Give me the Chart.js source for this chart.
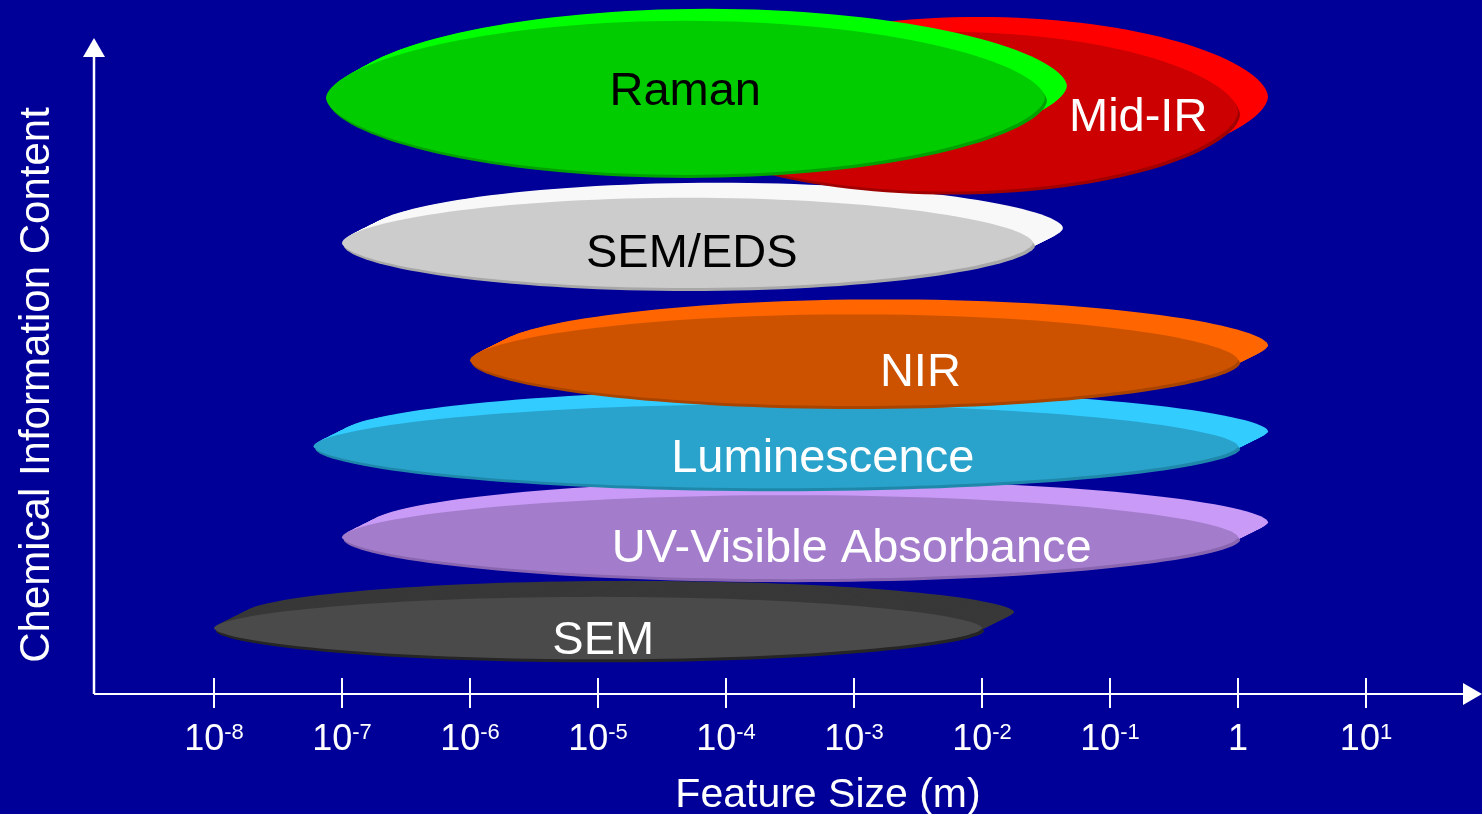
<!DOCTYPE html>
<html>
<head>
<meta charset="utf-8">
<title>Chemical Information Content vs Feature Size</title>
<script src="https://cdn.jsdelivr.net/npm/chart.js@4/dist/chart.umd.min.js"></script>
<style>
  html, body { margin: 0; padding: 0; background: #000099; overflow: hidden; }
  canvas { display: block; }
</style>
</head>
<body>
<canvas id="sizeChart" width="1482" height="814"></canvas>
<script>
// techniques, drawn back to front
const techniques = ["SEM", "UV-Visible Absorbance", "Luminescence", "NIR", "SEM/EDS", "Mid-IR", "Raman"];
// feature size range of each technique (m)
const sizeMin = [1e-8, 1e-7, 6e-8, 1e-6, 1e-7, 3e-5, 7.5e-8];
const sizeMax = [1e-2, 1, 1, 1, 2.5e-2, 1, 3.1e-2];
// chemical information content (0-100) and the half-spread of each disc
const infoLevel = [9.5, 22.6, 35.7, 48.1, 65.0, 83.9, 85.9];
const infoSpread = [4.5, 6.05, 6.05, 6.6, 6.5, 11.5, 11.1];
// where each name sits
const labelAtSize = [1.1e-5, 9.6e-4, 5.7e-4, 3.3e-3, 5.4e-5, 0.166, 4.8e-5];
const labelAtLevel = [8.2, 21.5, 34.4, 46.8, 64.0, 83.6, 87.3];

// x axis ticks
const tickValues = [1e-8, 1e-7, 1e-6, 1e-5, 1e-4, 1e-3, 1e-2, 1e-1, 1, 10];
const tickBase = ["10", "10", "10", "10", "10", "10", "10", "10", "1", "10"];
const tickPower = ["-8", "-7", "-6", "-5", "-4", "-3", "-2", "-1", "", "1"];

const discStyles = [
  { back: "#383838", front: "#4a4a4a", rim: "#252525", text: "#ffffff", dx: 32, dy: -16 },
  { back: "#c99bf7", front: "#a37dcc", rim: "#8a66b0", text: "#ffffff", dx: 30, dy: -15 },
  { back: "#33ccff", front: "#29a3cc", rim: "#1f88aa", text: "#ffffff", dx: 30, dy: -15 },
  { back: "#ff6600", front: "#cc5200", rim: "#a84300", text: "#ffffff", dx: 30, dy: -15 },
  { back: "#f8f8f8", front: "#cccccc", rim: "#a8a8a8", text: "#000000", dx: 30, dy: -15 },
  { back: "#ff0000", front: "#cc0000", rim: "#a00000", text: "#ffffff", dx: 30, dy: -15 },
  { back: "#00ff00", front: "#00cc00", rim: "#00a000", text: "#000000", dx: 22, dy: -12 }
];

const FONT = "'Liberation Sans', Arial, sans-serif";

// flattened ellipse, slightly pinched at both ends
function discPath(ctx, cx, cy, rx, ry) {
  const n = 140;
  ctx.beginPath();
  for (let i = 0; i <= n; i++) {
    const t = (i / n) * Math.PI * 2;
    const s = Math.sin(t);
    const x = cx + rx * Math.cos(t);
    const y = cy - ry * Math.sign(s) * Math.pow(Math.abs(s), 1.15);
    if (i === 0) ctx.moveTo(x, y); else ctx.lineTo(x, y);
  }
  ctx.closePath();
}

const discPlugin = {
  id: "discs",
  beforeDatasetsDraw(chart) {
    const ctx = chart.ctx;
    const xs = chart.scales.x, ys = chart.scales.y;
    techniques.forEach((name, i) => {
      const st = discStyles[i];
      const x0 = xs.getPixelForValue(sizeMin[i]);
      const x1 = xs.getPixelForValue(sizeMax[i]);
      const cx = (x0 + x1) / 2, rx = (x1 - x0) / 2;
      const cy = ys.getPixelForValue(infoLevel[i]);
      const ry = cy - ys.getPixelForValue(infoLevel[i] + infoSpread[i]);

      ctx.save();
      // side of the disc, swept from the back face to the front
      ctx.fillStyle = st.back;
      const steps = 16;
      for (let k = steps; k >= 1; k--) {
        discPath(ctx, cx + st.dx * k / steps, cy + st.dy * k / steps, rx, ry);
        ctx.fill();
      }
      // shaded lower rim
      ctx.fillStyle = st.rim;
      discPath(ctx, cx + 2, cy + 3, rx, ry);
      ctx.fill();
      // front face
      ctx.fillStyle = st.front;
      discPath(ctx, cx, cy, rx, ry);
      ctx.fill();

      // name
      const fs = 47;
      ctx.font = fs + "px " + FONT;
      ctx.fillStyle = st.text;
      ctx.textAlign = "center";
      ctx.textBaseline = "alphabetic";
      const lx = xs.getPixelForValue(labelAtSize[i]);
      const ly = ys.getPixelForValue(labelAtLevel[i]) + fs * 0.36;
      ctx.fillText(name, lx, ly);
      ctx.restore();
    });
  },
  afterDraw(chart) {
    const ctx = chart.ctx;
    const xs = chart.scales.x;
    const area = chart.chartArea;
    const ox = area.left, oy = area.bottom;
    ctx.save();
    ctx.strokeStyle = "#ffffff";
    ctx.fillStyle = "#ffffff";

    // y axis with arrow
    ctx.lineWidth = 2.5;
    ctx.beginPath();
    ctx.moveTo(ox, oy);
    ctx.lineTo(ox, 54);
    ctx.stroke();
    ctx.beginPath();
    ctx.moveTo(ox, 38);
    ctx.lineTo(ox - 11, 57);
    ctx.lineTo(ox + 11, 57);
    ctx.closePath();
    ctx.fill();

    // x axis with arrow
    ctx.lineWidth = 2;
    ctx.beginPath();
    ctx.moveTo(ox, oy);
    ctx.lineTo(1466, oy);
    ctx.stroke();
    ctx.beginPath();
    ctx.moveTo(1482, oy);
    ctx.lineTo(1463, oy - 11);
    ctx.lineTo(1463, oy + 11);
    ctx.closePath();
    ctx.fill();

    // ticks and power-of-ten labels
    tickValues.forEach((v, i) => {
      const px = Math.round(xs.getPixelForValue(v));
      ctx.beginPath();
      ctx.moveTo(px, oy - 16);
      ctx.lineTo(px, oy + 14);
      ctx.stroke();

      ctx.textAlign = "left";
      ctx.textBaseline = "alphabetic";
      ctx.font = "36px " + FONT;
      const wb = ctx.measureText(tickBase[i]).width;
      ctx.font = "22px " + FONT;
      const wp = tickPower[i] ? ctx.measureText(tickPower[i]).width : 0;
      const start = px - (wb + wp) / 2;
      ctx.font = "36px " + FONT;
      ctx.fillText(tickBase[i], start, 750);
      if (tickPower[i]) {
        ctx.font = "22px " + FONT;
        ctx.fillText(tickPower[i], start + wb, 739);
      }
    });

    // axis titles
    ctx.font = "41px " + FONT;
    ctx.textAlign = "center";
    ctx.fillText("Feature Size (m)", 828, 807);

    ctx.translate(49, 385);
    ctx.rotate(-Math.PI / 2);
    ctx.font = "42px " + FONT;
    ctx.fillText("Chemical Information Content", 0, 0);
    ctx.restore();
  }
};

const datasets = techniques.map((name, i) => ({
  label: name,
  data: [{ x: sizeMin[i], y: infoLevel[i] }, { x: sizeMax[i], y: infoLevel[i] }],
  pointRadius: 0,
  showLine: false
}));

new Chart(document.getElementById("sizeChart"), {
  type: "scatter",
  data: { datasets },
  options: {
    responsive: false,
    animation: false,
    devicePixelRatio: 1,
    layout: { padding: { left: 94, right: 16, top: 0, bottom: 120 } },
    scales: {
      x: { type: "logarithmic", min: Math.pow(10, -8.9375), max: Math.pow(10, 1.78125), display: false },
      y: { type: "linear", min: 0, max: 100, display: false }
    },
    plugins: { legend: { display: false }, tooltip: { enabled: false } }
  },
  plugins: [discPlugin]
});
</script>
</body>
</html>
